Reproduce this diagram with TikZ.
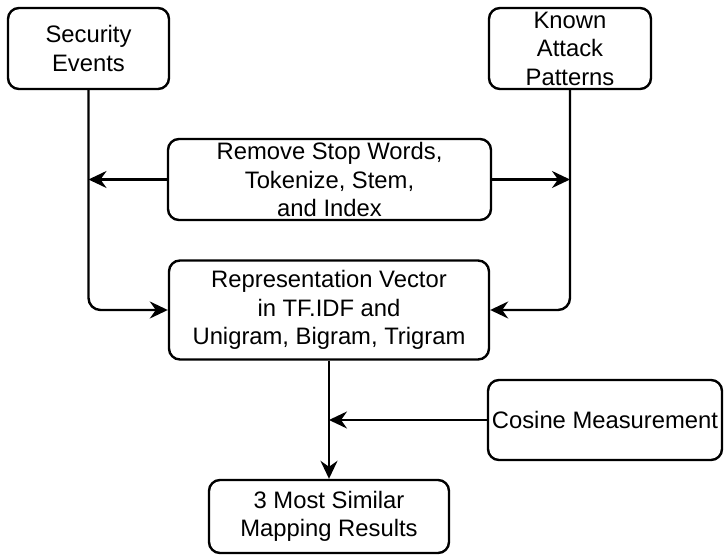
\documentclass[tikz,border=0pt]{standalone}
\usepackage{fontspec}
\setmainfont{Liberation Sans}
\usetikzlibrary{arrows.meta}
\begin{document}
\begin{tikzpicture}[x=1pt,y=-1pt,
  box/.style={draw, line width=2.4pt, rounded corners=11pt, inner sep=0pt, align=center,
    font=\fontsize{23.8}{28.5}\selectfont},
  conn/.style={line width=2.4pt, -{Stealth[length=18pt,width=17pt,inset=6pt]}},
  elbowconn/.style={conn, rounded corners=12pt}]
\useasboundingbox (0,0) rectangle (724,556);
\node[box, minimum width=161pt, minimum height=81pt] (se) at (88.5,48.5) {Security\\Events};
\node[box, minimum width=162pt, minimum height=81pt] (kap) at (570,48.5) {Known\\Attack\\Patterns};
\node[box, minimum width=323pt, minimum height=81pt] (rm) at (329.5,179.5) {Remove Stop Words,\\Tokenize, Stem,\\and Index};
\node[box, minimum width=320pt, minimum height=99pt] (rep) at (329,310) {Representation Vector\\in TF.IDF and\\Unigram, Bigram, Trigram};
\node[box, minimum width=234pt, minimum height=80pt] (cos) at (605,420) {Cosine Measurement};
\node[box, minimum width=240pt, minimum height=73pt] (res) at (329,516.5) {3 Most Similar\\Mapping Results};
\draw[elbowconn] (se.south) |- (rep.west);
\draw[elbowconn] (kap.south) |- (rep.east);
\draw[conn] (rm.west) -- (rm.west -| se.south);
\draw[conn] (rm.east) -- (rm.east -| kap.south);
\draw[conn] (rep.south) -- (res.north);
\draw[conn] (cos.west) -- (cos.west -| rep.south);
\end{tikzpicture}
\end{document}
